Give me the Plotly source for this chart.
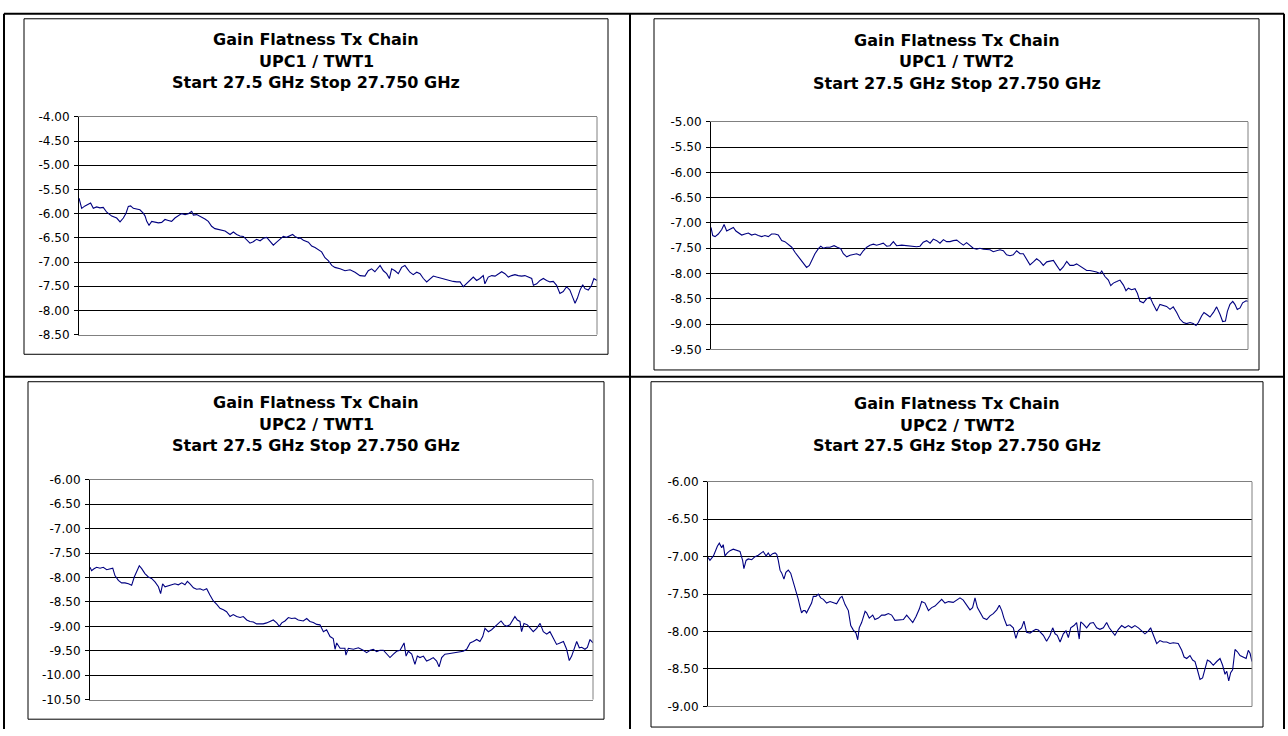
import plotly.graph_objects as go

# ---------------- data (offset from 27.5 GHz start, in MHz; gain in dB) ----------------
offset_mhz_upc1_twt1 = [
    0.0, 1.3, 2.9, 4.0, 5.6, 6.9, 8.5, 10.1, 11.7, 13.4, 15.8, 18.2, 19.8, 21.4, 22.7, 23.8,
    24.9, 26.2, 27.8, 29.4, 31.0, 31.9, 32.7, 33.8, 35.1, 36.7, 38.3, 39.9, 41.5, 43.1, 44.7,
    46.3, 47.9, 49.5, 51.2, 52.8, 54.4, 55.2, 56.8, 58.4, 60.8, 62.4, 64.0, 65.6, 68.0, 70.5,
    72.9, 74.5, 76.1, 77.7, 79.3, 80.9, 82.5, 84.1, 85.7, 87.4, 89.0, 90.6, 92.2, 93.8, 95.4,
    97.0, 98.6, 100.2, 101.8, 103.1, 104.2, 105.9, 106.7, 108.3, 110.7, 112.3, 113.9, 115.5,
    117.1, 118.7, 120.3, 122.0, 123.5, 126.0, 128.4, 130.8, 133.2, 135.6, 138.0, 139.6, 141.2,
    142.8, 145.3, 146.9, 148.5, 149.8, 150.9, 152.5, 154.1, 155.7, 157.3, 158.5, 159.7, 161.3,
    163.0, 164.6, 166.2, 167.8, 169.4, 171.0, 172.6, 174.2, 175.8, 177.4, 179.0, 180.6, 182.3,
    183.9, 185.5, 187.1, 188.7, 190.3, 191.9, 193.5, 195.1, 195.9, 197.5, 199.2, 200.8, 202.4,
    204.0, 205.6, 207.2, 208.8, 210.4, 212.0, 213.6, 215.2, 216.8, 218.5, 219.3, 220.9, 222.5,
    224.1, 225.7, 227.3, 228.9, 230.5, 232.1, 233.7, 235.3, 236.9, 238.2, 239.4, 240.5, 241.8,
    243.1, 244.2, 245.8, 247.4, 248.5, 250.0,
]
gain_upc1_twt1 = [
    -5.68, -5.89, -5.84, -5.82, -5.78, -5.89, -5.86, -5.88, -5.87, -5.97, -6.05, -6.09, -6.17,
    -6.09, -5.99, -5.85, -5.84, -5.89, -5.90, -5.92, -5.99, -6.05, -6.16, -6.24, -6.16, -6.18,
    -6.19, -6.18, -6.12, -6.14, -6.16, -6.09, -6.05, -6.00, -6.02, -6.00, -5.95, -6.03, -6.02,
    -6.05, -6.11, -6.16, -6.26, -6.31, -6.34, -6.36, -6.43, -6.38, -6.43, -6.46, -6.47, -6.54,
    -6.61, -6.58, -6.53, -6.56, -6.51, -6.49, -6.56, -6.65, -6.59, -6.53, -6.47, -6.49, -6.45,
    -6.43, -6.47, -6.51, -6.50, -6.55, -6.59, -6.67, -6.70, -6.74, -6.79, -6.91, -6.97, -7.07,
    -7.11, -7.14, -7.18, -7.16, -7.21, -7.28, -7.29, -7.18, -7.14, -7.20, -7.07, -7.18, -7.24,
    -7.34, -7.14, -7.18, -7.24, -7.11, -7.07, -7.14, -7.21, -7.26, -7.21, -7.24, -7.34, -7.41,
    -7.34, -7.29, -7.31, -7.33, -7.34, -7.36, -7.38, -7.40, -7.41, -7.41, -7.51, -7.45, -7.38,
    -7.31, -7.38, -7.34, -7.28, -7.45, -7.31, -7.28, -7.29, -7.24, -7.20, -7.24, -7.31, -7.28,
    -7.26, -7.28, -7.29, -7.28, -7.31, -7.34, -7.48, -7.45, -7.38, -7.34, -7.38, -7.41, -7.40,
    -7.48, -7.65, -7.61, -7.51, -7.58, -7.72, -7.85, -7.75, -7.58, -7.47, -7.55, -7.58, -7.48,
    -7.34, -7.38,
]

offset_mhz_upc1_twt2 = [
    0.0, 0.8, 1.9, 3.4, 5.0, 6.1, 7.3, 8.8, 10.4, 11.6, 12.7, 14.3, 15.8, 17.4, 18.9, 20.5,
    22.0, 23.6, 25.1, 26.7, 28.2, 29.8, 31.3, 32.9, 34.4, 36.0, 37.6, 39.1, 40.7, 42.2, 43.3,
    44.5, 45.8, 46.9, 48.4, 50.0, 51.1, 52.3, 53.8, 55.4, 57.3, 58.8, 60.4, 61.6, 63.2, 64.7,
    66.3, 67.8, 69.4, 70.9, 72.5, 74.0, 75.6, 77.1, 78.7, 80.2, 81.8, 83.3, 84.9, 86.4, 88.8,
    91.1, 93.4, 95.7, 97.3, 98.8, 100.4, 102.0, 103.5, 105.1, 106.6, 108.2, 109.7, 111.3,
    112.8, 114.4, 115.9, 117.5, 119.0, 120.6, 122.1, 123.7, 125.2, 126.8, 128.3, 129.9, 131.4,
    133.0, 134.5, 136.1, 137.6, 139.2, 140.7, 142.3, 143.9, 145.4, 147.0, 148.5, 150.1, 151.6,
    153.2, 154.7, 156.3, 157.8, 159.4, 160.9, 162.5, 164.0, 165.6, 167.1, 168.7, 170.2, 171.8,
    173.3, 174.9, 176.4, 178.0, 179.5, 181.1, 181.9, 183.4, 185.0, 186.1, 187.3, 188.9, 190.4,
    192.0, 193.2, 194.3, 195.8, 197.4, 198.5, 199.7, 201.3, 202.8, 204.4, 205.9, 207.5, 209.0,
    210.6, 212.1, 213.7, 215.2, 216.8, 218.3, 219.9, 221.4, 223.0, 224.5, 225.8, 226.9, 228.4,
    229.5, 230.8, 232.3, 233.9, 235.4, 237.0, 238.2, 239.5, 240.4, 241.6, 242.9, 243.9, 245.0,
    246.3, 247.5, 249.1, 250.0,
]
gain_upc1_twt2 = [
    -7.09, -7.25, -7.27, -7.22, -7.13, -7.03, -7.16, -7.13, -7.09, -7.16, -7.19, -7.24, -7.22,
    -7.20, -7.24, -7.22, -7.25, -7.27, -7.25, -7.27, -7.22, -7.22, -7.24, -7.35, -7.37, -7.42,
    -7.48, -7.58, -7.67, -7.74, -7.80, -7.88, -7.84, -7.74, -7.61, -7.51, -7.46, -7.50, -7.48,
    -7.48, -7.45, -7.48, -7.51, -7.61, -7.67, -7.64, -7.63, -7.61, -7.64, -7.55, -7.48, -7.44,
    -7.42, -7.44, -7.42, -7.40, -7.46, -7.45, -7.37, -7.45, -7.44, -7.45, -7.46, -7.47, -7.46,
    -7.38, -7.35, -7.40, -7.32, -7.35, -7.40, -7.33, -7.37, -7.37, -7.35, -7.34, -7.39, -7.44,
    -7.39, -7.45, -7.50, -7.52, -7.50, -7.52, -7.52, -7.53, -7.57, -7.55, -7.53, -7.55, -7.63,
    -7.65, -7.63, -7.55, -7.61, -7.61, -7.71, -7.83, -7.77, -7.71, -7.76, -7.84, -7.77, -7.76,
    -7.74, -7.84, -7.94, -7.87, -7.76, -7.84, -7.84, -7.81, -7.85, -7.90, -7.94, -7.94, -7.95,
    -7.97, -8.00, -7.95, -8.06, -8.13, -8.24, -8.19, -8.16, -8.13, -8.23, -8.34, -8.29, -8.32,
    -8.30, -8.39, -8.55, -8.58, -8.50, -8.47, -8.61, -8.74, -8.61, -8.63, -8.65, -8.71, -8.66,
    -8.77, -8.90, -8.97, -8.99, -8.97, -8.99, -9.03, -8.97, -8.84, -8.77, -8.81, -8.86, -8.77,
    -8.66, -8.81, -8.95, -8.94, -8.75, -8.61, -8.55, -8.61, -8.71, -8.68, -8.58, -8.54, -8.55,
]

offset_mhz_upc2_twt1 = [
    0.0, 0.8, 2.0, 3.3, 5.0, 6.6, 8.3, 9.9, 11.3, 12.4, 14.1, 15.7, 17.4, 19.1, 20.7, 22.0,
    23.2, 24.5, 25.7, 27.3, 29.0, 30.6, 32.3, 34.0, 35.1, 36.1, 37.3, 38.9, 40.6, 42.2, 43.9,
    45.6, 47.2, 48.4, 49.7, 51.4, 53.0, 54.7, 56.3, 58.0, 59.6, 61.3, 63.0, 64.6, 66.3, 67.9,
    69.6, 71.2, 72.9, 74.6, 76.2, 77.9, 79.5, 81.2, 82.8, 84.5, 86.1, 87.8, 89.5, 91.1, 92.8,
    94.1, 95.3, 96.9, 98.6, 100.2, 101.9, 103.5, 106.0, 107.7, 109.3, 111.0, 112.7, 114.3,
    116.0, 117.6, 119.3, 120.9, 121.8, 122.6, 124.3, 126.7, 127.2, 128.4, 130.9, 133.4, 135.8,
    137.5, 139.2, 140.8, 142.5, 144.1, 145.8, 147.4, 149.1, 150.8, 152.4, 154.1, 156.1, 157.1,
    158.2, 159.9, 161.5, 162.7, 164.0, 165.7, 167.3, 169.0, 170.6, 172.3, 173.5, 174.8, 176.4,
    178.1, 180.6, 183.1, 185.5, 187.2, 188.9, 190.5, 192.2, 193.8, 195.2, 196.3, 198.0, 199.6,
    201.3, 202.9, 204.3, 205.8, 207.1, 208.7, 210.4, 211.2, 212.4, 213.7, 214.5, 215.7, 217.4,
    219.0, 220.3, 222.0, 223.7, 225.3, 227.0, 228.6, 230.3, 231.9, 233.6, 235.3, 236.9, 238.2,
    239.4, 240.5, 241.9, 243.2, 244.4, 246.0, 247.2, 248.5, 250.0,
]
gain_upc2_twt1 = [
    -7.79, -7.86, -7.82, -7.79, -7.81, -7.79, -7.84, -7.82, -7.81, -7.96, -8.06, -8.11, -8.11,
    -8.13, -8.16, -7.99, -7.86, -7.76, -7.82, -7.92, -7.99, -8.02, -8.09, -8.19, -8.33, -8.13,
    -8.19, -8.17, -8.15, -8.13, -8.15, -8.11, -8.15, -8.08, -8.13, -8.21, -8.24, -8.23, -8.26,
    -8.23, -8.36, -8.48, -8.55, -8.63, -8.66, -8.70, -8.80, -8.76, -8.80, -8.82, -8.80, -8.87,
    -8.90, -8.91, -8.95, -8.95, -8.95, -8.93, -8.90, -8.87, -8.93, -9.00, -8.93, -8.89, -8.82,
    -8.84, -8.83, -8.87, -8.89, -8.84, -8.90, -8.92, -8.96, -8.97, -9.11, -9.07, -9.21, -9.25,
    -9.47, -9.34, -9.45, -9.45, -9.59, -9.45, -9.47, -9.44, -9.49, -9.54, -9.49, -9.47, -9.52,
    -9.49, -9.49, -9.56, -9.64, -9.57, -9.51, -9.49, -9.34, -9.61, -9.51, -9.57, -9.78, -9.61,
    -9.64, -9.61, -9.71, -9.68, -9.64, -9.71, -9.83, -9.64, -9.57, -9.56, -9.54, -9.52, -9.51,
    -9.47, -9.34, -9.31, -9.27, -9.31, -9.21, -9.04, -9.11, -9.07, -9.00, -8.94, -8.89, -8.97,
    -9.00, -8.97, -8.87, -8.80, -8.87, -8.90, -9.11, -8.94, -8.97, -9.04, -9.11, -9.04, -8.94,
    -9.11, -9.16, -9.11, -9.24, -9.37, -9.34, -9.31, -9.47, -9.70, -9.61, -9.47, -9.31, -9.44,
    -9.43, -9.47, -9.43, -9.27, -9.34,
]

offset_mhz_upc2_twt2 = [
    0.0, 0.9, 2.5, 3.2, 4.3, 5.2, 6.3, 7.0, 7.8, 8.9, 10.1, 11.6, 13.2, 14.7, 15.9, 16.5, 17.5,
    18.5, 20.1, 21.6, 23.1, 24.7, 25.4, 26.7, 27.7, 28.5, 29.7, 30.8, 31.6, 32.3, 33.1, 33.9,
    34.9, 35.8, 36.9, 38.0, 39.2, 40.0, 40.7, 41.5, 42.3, 43.0, 43.8, 44.6, 45.3, 46.6, 47.6,
    48.4, 49.6, 50.7, 51.8, 53.0, 54.5, 56.1, 57.6, 59.1, 60.7, 61.6, 63.0, 64.5, 65.6, 66.8,
    68.0, 68.8, 69.5, 70.6, 72.2, 72.9, 74.1, 75.7, 76.7, 78.3, 79.8, 81.3, 82.9, 84.4, 85.9,
    88.2, 89.8, 91.3, 92.8, 94.1, 95.6, 97.1, 98.2, 99.7, 101.3, 102.8, 104.3, 105.9, 107.4,
    108.9, 110.5, 112.7, 114.3, 115.8, 117.3, 118.9, 120.4, 121.6, 122.7, 123.8, 125.0, 126.5,
    128.1, 129.6, 131.1, 132.7, 133.9, 135.0, 136.0, 137.3, 138.8, 140.3, 141.5, 142.6, 144.1,
    145.2, 146.4, 148.0, 149.5, 150.7, 151.8, 152.9, 154.1, 155.6, 157.2, 158.4, 159.5, 160.5,
    161.8, 163.3, 164.5, 165.6, 166.7, 168.2, 169.4, 170.6, 171.3, 172.5, 174.0, 175.6, 177.1,
    178.6, 180.1, 181.7, 183.2, 184.4, 185.5, 187.0, 188.6, 190.1, 191.6, 193.2, 194.7, 196.2,
    197.8, 199.3, 200.8, 202.4, 203.4, 204.7, 206.2, 207.7, 209.2, 210.8, 212.3, 213.8, 216.1,
    217.7, 218.8, 220.0, 221.5, 222.7, 223.8, 224.9, 226.1, 227.3, 228.4, 229.5, 230.7, 232.2,
    233.8, 235.3, 236.5, 237.6, 238.4, 239.3, 240.2, 241.1, 242.2, 243.3, 244.5, 246.0, 247.3,
    248.3, 249.1, 250.0,
]
gain_upc2_twt2 = [
    -7.01, -7.05, -6.99, -6.93, -6.86, -6.82, -6.88, -6.84, -6.99, -6.95, -6.92, -6.90, -6.92,
    -6.93, -7.05, -7.16, -7.05, -7.03, -7.04, -7.00, -6.98, -6.95, -6.93, -6.99, -6.95, -6.99,
    -6.96, -6.95, -6.97, -7.05, -7.18, -7.22, -7.30, -7.21, -7.18, -7.22, -7.33, -7.40, -7.48,
    -7.57, -7.67, -7.75, -7.72, -7.72, -7.75, -7.68, -7.62, -7.53, -7.53, -7.50, -7.55, -7.57,
    -7.62, -7.60, -7.62, -7.63, -7.55, -7.53, -7.64, -7.72, -7.92, -7.98, -8.02, -8.11, -7.95,
    -7.88, -7.73, -7.75, -7.82, -7.78, -7.84, -7.82, -7.78, -7.78, -7.76, -7.78, -7.85, -7.85,
    -7.84, -7.78, -7.84, -7.88, -7.80, -7.70, -7.60, -7.62, -7.72, -7.68, -7.66, -7.62, -7.57,
    -7.62, -7.60, -7.61, -7.58, -7.55, -7.58, -7.64, -7.71, -7.68, -7.55, -7.68, -7.75, -7.82,
    -7.84, -7.79, -7.76, -7.71, -7.65, -7.72, -7.82, -7.92, -7.91, -7.95, -8.09, -7.99, -7.95,
    -7.86, -8.01, -8.02, -7.99, -7.97, -7.98, -8.02, -8.05, -8.13, -8.05, -7.95, -8.03, -8.05,
    -8.14, -8.03, -7.99, -8.08, -7.95, -7.92, -7.88, -8.10, -7.87, -7.90, -7.95, -7.89, -7.88,
    -7.95, -7.97, -7.95, -7.88, -7.95, -7.99, -8.05, -7.97, -7.92, -7.95, -7.92, -7.95, -7.92,
    -7.95, -7.99, -8.03, -7.99, -7.95, -8.05, -8.16, -8.12, -8.14, -8.14, -8.16, -8.15, -8.16,
    -8.25, -8.34, -8.36, -8.32, -8.38, -8.40, -8.51, -8.64, -8.62, -8.51, -8.38, -8.40, -8.45,
    -8.40, -8.36, -8.45, -8.57, -8.53, -8.66, -8.55, -8.51, -8.24, -8.27, -8.32, -8.34, -8.36,
    -8.25, -8.29, -8.40,
]

yticks_upc1_twt1 = [-8.5, -8.0, -7.5, -7.0, -6.5, -6.0, -5.5, -5.0, -4.5, -4.0]
yticks_upc1_twt2 = [-9.5, -9.0, -8.5, -8.0, -7.5, -7.0, -6.5, -6.0, -5.5, -5.0]
yticks_upc2_twt1 = [-10.5, -10.0, -9.5, -9.0, -8.5, -8.0, -7.5, -7.0, -6.5, -6.0]
yticks_upc2_twt2 = [-9.0, -8.5, -8.0, -7.5, -7.0, -6.5, -6.0]

title_line1 = "Gain Flatness Tx Chain"
chain_names = ["UPC1 / TWT1", "UPC1 / TWT2", "UPC2 / TWT1", "UPC2 / TWT2"]
title_line3 = "Start 27.5 GHz Stop 27.750 GHz"
span_mhz = [0, 250]

# ---------------- layout (pixels) ----------------
W, H = 1288, 736

def fx(px):
    return px / W

def fy(py):
    return 1 - py / H

panels = [
    dict(x=offset_mhz_upc1_twt1, y=gain_upc1_twt1, ticks=yticks_upc1_twt1,
         box=(24, 12, 608, 354), plot=(79, 112, 597, 334), ty=(33.5, 55.5, 77.0)),
    dict(x=offset_mhz_upc1_twt2, y=gain_upc1_twt2, ticks=yticks_upc1_twt2,
         box=(654, 12, 1259, 370), plot=(711, 117, 1248, 349), ty=(34.0, 56.0, 77.5)),
    dict(x=offset_mhz_upc2_twt1, y=gain_upc2_twt1, ticks=yticks_upc2_twt1,
         box=(28, 382, 604, 726), plot=(90, 482, 593, 706), ty=(403.5, 426.0, 447.5)),
    dict(x=offset_mhz_upc2_twt2, y=gain_upc2_twt2, ticks=yticks_upc2_twt2,
         box=(651, 382, 1263, 734), plot=(708, 484, 1252, 713), ty=(404.0, 426.5, 447.5)),
]

fig = go.Figure()
shapes = []
annotations = []
layout_axes = {}

TITLE_FONT = dict(family="DejaVu Sans", size=16, color="#000000")
TICK_FONT = dict(family="DejaVu Sans", size=12, color="#000000")

for i, p in enumerate(panels, start=1):
    xa = "x" if i == 1 else f"x{i}"
    ya = "y" if i == 1 else f"y{i}"
    fig.add_trace(go.Scatter(
        x=p["x"], y=p["y"], mode="lines", xaxis=xa, yaxis=ya,
        line=dict(color="#000080", width=1.1), showlegend=False, hoverinfo="skip",
    ))
    x0, y0, x1, y1 = p["plot"]
    ticks = p["ticks"]
    layout_axes["xaxis" if i == 1 else f"xaxis{i}"] = dict(
        domain=[fx(x0), fx(x1)], range=span_mhz, anchor=ya,
        showgrid=False, zeroline=False, showticklabels=False, ticks="",
        showline=True, linecolor="#808080", linewidth=1, mirror=True, fixedrange=True,
    )
    layout_axes["yaxis" if i == 1 else f"yaxis{i}"] = dict(
        domain=[fy(y1), fy(y0)], range=[min(ticks), max(ticks)], anchor=xa,
        tickmode="array", tickvals=ticks, ticktext=[f"{v:.2f}" for v in ticks],
        ticks="outside", ticklen=4, tickcolor="#000000", tickwidth=1,
        showline=True, linecolor="#000000", linewidth=1,
        showgrid=True, gridcolor="#000000", gridwidth=1, zeroline=False,
        tickfont=TICK_FONT, ticklabelstandoff=2, fixedrange=True,
    )
    # right edge of plot area (gray border)
    shapes.append(dict(type="line", xref=f"{xa} domain", yref=f"{ya} domain",
                       x0=1, x1=1, y0=0, y1=1, line=dict(color="#808080", width=1)))
    # chart box
    bx0, by0, bx1, by1 = p["box"]
    shapes.append(dict(type="rect", xref="paper", yref="paper",
                       x0=fx(bx0), x1=fx(bx1), y0=fy(by1), y1=fy(by0),
                       line=dict(color="#000000", width=1)))
    cx = fx((bx0 + bx1) / 2)
    for txt, ty in zip([title_line1, chain_names[i - 1], title_line3], p["ty"]):
        annotations.append(dict(
            text=f"<b>{txt}</b>", x=cx, y=fy(ty), xref="paper", yref="paper",
            xanchor="center", yanchor="middle", showarrow=False, font=TITLE_FONT,
        ))

# outer table lines
for (ax0, ay0, ax1, ay1) in [(4, 7, 1284, 7), (4, 7, 4, 736), (1284, 7, 1284, 736),
                             (630, 7, 630, 736), (4, 377, 1284, 377)]:
    shapes.append(dict(type="line", xref="paper", yref="paper",
                       x0=fx(ax0), x1=fx(ax1), y0=fy(ay0), y1=fy(ay1),
                       line=dict(color="#000000", width=2)))

fig.update_layout(
    width=W, height=H, autosize=False,
    margin=dict(l=0, r=0, t=0, b=0, pad=0),
    paper_bgcolor="#ffffff", plot_bgcolor="#ffffff",
    shapes=shapes, annotations=annotations, showlegend=False,
    **layout_axes,
)

fig.write_html("out.html")
